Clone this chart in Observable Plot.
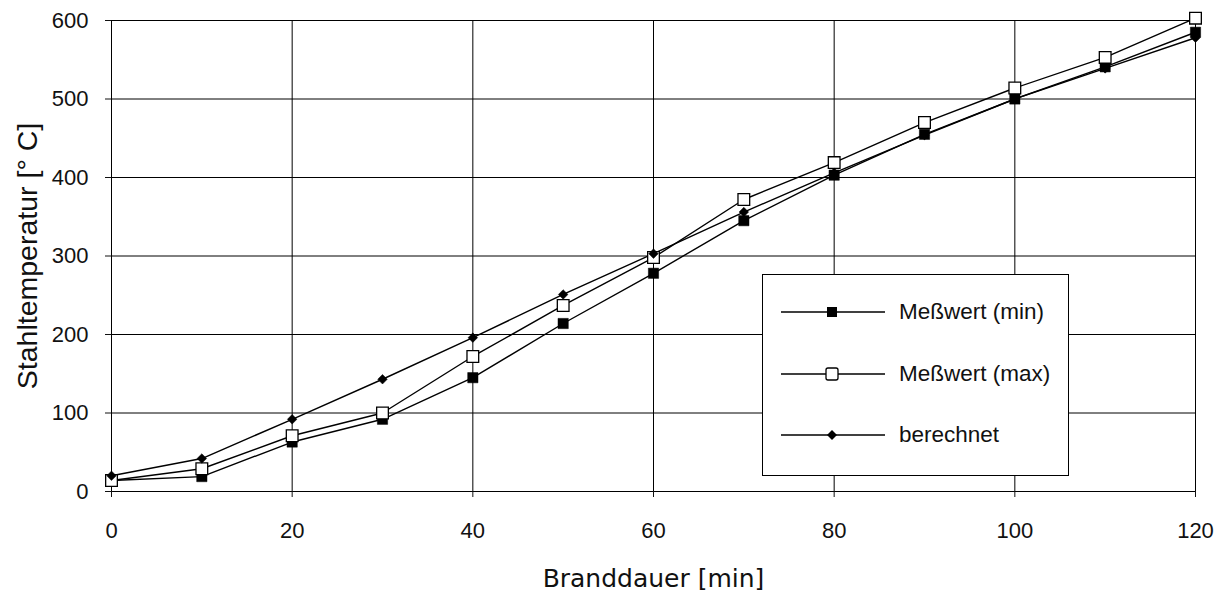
<!DOCTYPE html>
<html>
<head>
<meta charset="utf-8">
<script src="https://cdn.jsdelivr.net/npm/d3@7"></script>
<script src="https://cdn.jsdelivr.net/npm/@observablehq/plot@0.6"></script>
<style>
  html, body { margin: 0; padding: 0; background: #fff; }
  #chart { position: relative; width: 1220px; height: 595px; }
  #chart svg { font-family: "Liberation Sans", Arial, sans-serif; }
  #legend {
    position: absolute; left: 762px; top: 274px; width: 307px; height: 202px;
    border: 1px solid #000; background: #fff; box-sizing: border-box;
    font-family: "Liberation Sans", Arial, sans-serif; font-size: 22.5px; color: #111;
  }
  .row { position: absolute; left: 0; height: 30px; display: flex; align-items: center; }
  .row svg { display: block; }
  .row span { margin-left: 14px; }
</style>
</head>
<body>
<div id="chart"></div>
<script>
// ---- data ----
const minutes = [0, 10, 20, 30, 40, 50, 60, 70, 80, 90, 100, 110, 120];
const messwertMin = [14, 19, 63, 92, 145, 214, 278, 345, 403, 455, 500, 541, 585];
const messwertMax = [14, 29, 71, 100, 172, 237, 298, 372, 419, 470, 514, 553, 603];
const berechnet = [20, 42, 92, 143, 196, 251, 303, 356, 406, 454, 500, 539, 578];
const seriesNames = ["Meßwert (min)", "Meßwert (max)", "berechnet"];
const xTicks = [0, 20, 40, 60, 80, 100, 120];
const yTicks = [0, 100, 200, 300, 400, 500, 600];
const xLabel = "Branddauer [min]";
const yLabel = "Stahltemperatur [° C]";

const seriesValues = [messwertMin, messwertMax, berechnet];
const data = [];
seriesNames.forEach((s, i) => minutes.forEach((m, j) => data.push({series: s, x: m, y: seriesValues[i][j]})));
const bySeries = s => data.filter(d => d.series === s);

const chart = Plot.plot({
  width: 1220,
  height: 595,
  marginLeft: 111,
  marginRight: 25,
  marginTop: 20,
  marginBottom: 104,
  style: {fontSize: "22px", color: "#111", background: "#fff"},
  x: {domain: [0, 120]},
  y: {domain: [0, 600]},
  marks: [
    Plot.gridX(xTicks, {stroke: "#000", strokeOpacity: 1, strokeWidth: 1}),
    Plot.gridY(yTicks, {stroke: "#000", strokeOpacity: 1, strokeWidth: 1}),
    Plot.frame({stroke: "#000", strokeWidth: 1}),
    Plot.axisX({ticks: xTicks, tickSize: 6, tickPadding: 25, tickFormat: d => d, label: null, fontSize: 22}),
    Plot.axisY({ticks: yTicks, tickSize: 6, tickPadding: 17, tickFormat: d => d, label: null, fontSize: 22}),
    Plot.text([xLabel], {frameAnchor: "bottom", dy: 87, lineAnchor: "middle", text: d => d,
      fontSize: 25, fontFamily: "DejaVu Sans", fill: "#111"}),
    Plot.text([yLabel], {frameAnchor: "left", dx: -84, rotate: -90, textAnchor: "middle", lineAnchor: "middle", text: d => d,
      fontSize: 28.5, fontFamily: "Liberation Sans", fill: "#111"}),
    Plot.line(data, {x: "x", y: "y", z: "series", stroke: "#000", strokeWidth: 1.4}),
    Plot.dot(bySeries(seriesNames[0]), {x: "x", y: "y", symbol: "square", r: 5.8, fill: "#000", stroke: "#000", strokeWidth: 0.5}),
    Plot.dot(bySeries(seriesNames[1]), {x: "x", y: "y", symbol: "square", r: 6.6, fill: "#fff", stroke: "#000", strokeWidth: 1.3}),
    Plot.dot(bySeries(seriesNames[2]), {x: "x", y: "y", symbol: "diamond2", r: 4.3, fill: "#000", stroke: "#000", strokeWidth: 0.5})
  ]
});

const container = document.getElementById("chart");
container.appendChild(chart);

// ---- legend ----
const legend = document.createElement("div");
legend.id = "legend";
const rowTops = [22, 84, 145];
const symbolSvg = [
  '<rect x="46" y="10" width="10" height="10" fill="#000"/>',
  '<rect x="45" y="9" width="12" height="12" rx="2" fill="#fff" stroke="#000" stroke-width="1.3"/>',
  '<path d="M51 10 L56 15 L51 20 L46 15 Z" fill="#000"/>'
];
seriesNames.forEach((s, i) => {
  const row = document.createElement("div");
  row.className = "row";
  row.style.top = rowTops[i] + "px";
  row.style.left = "18px";
  row.innerHTML = `<svg width="104" height="30"><line x1="0" x2="104" y1="15" y2="15" stroke="#000" stroke-width="1.4"/>${symbolSvg[i]}</svg><span>${s}</span>`;
  legend.appendChild(row);
});
container.appendChild(legend);
</script>
</body>
</html>
